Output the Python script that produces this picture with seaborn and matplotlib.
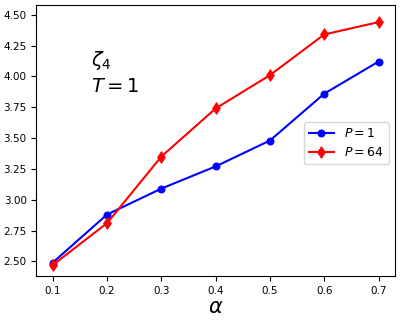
import matplotlib
matplotlib.use("Agg")
import matplotlib.pyplot as plt
import seaborn as sns
import pandas as pd

# data
alpha = [0.1, 0.2, 0.3, 0.4, 0.5, 0.6, 0.7]
zeta_p1 = [2.49, 2.88, 3.09, 3.27, 3.48, 3.86, 4.12]
zeta_p64 = [2.47, 2.81, 3.35, 3.74, 4.01, 4.34, 4.44]

df1 = pd.DataFrame({"alpha": alpha, "zeta": zeta_p1})
df64 = pd.DataFrame({"alpha": alpha, "zeta": zeta_p64})

fig, ax = plt.subplots(figsize=(4.05, 3.23), dpi=100)
sns.lineplot(data=df1, x="alpha", y="zeta", ax=ax, color="blue", marker="o",
             markersize=5, markeredgecolor="blue", label=r"$P=1$")
sns.lineplot(data=df64, x="alpha", y="zeta", ax=ax, color="red", marker="d",
             markersize=6, markeredgecolor="red", markeredgewidth=0.5, label=r"$P=64$")

ax.set_xticks(alpha)
ax.set_yticks([2.50, 2.75, 3.00, 3.25, 3.50, 3.75, 4.00, 4.25, 4.50])
ax.set_ylim(2.38, 4.58)
ax.tick_params(labelsize=7.5)
ax.set_xlabel(r"$\alpha$", fontsize=15, labelpad=1)
ax.set_ylabel("")
ax.text(0.17, 4.22, r"$\zeta_4$" + "\n" + r"$T=1$", fontsize=14, va="top", linespacing=1.3)
ax.legend(loc="center right", fontsize=9, handlelength=2.0, bbox_to_anchor=(1.0, 0.49))

plt.subplots_adjust(left=0.09, right=0.975, top=0.985, bottom=0.145)
plt.savefig("out.png", dpi=100)
